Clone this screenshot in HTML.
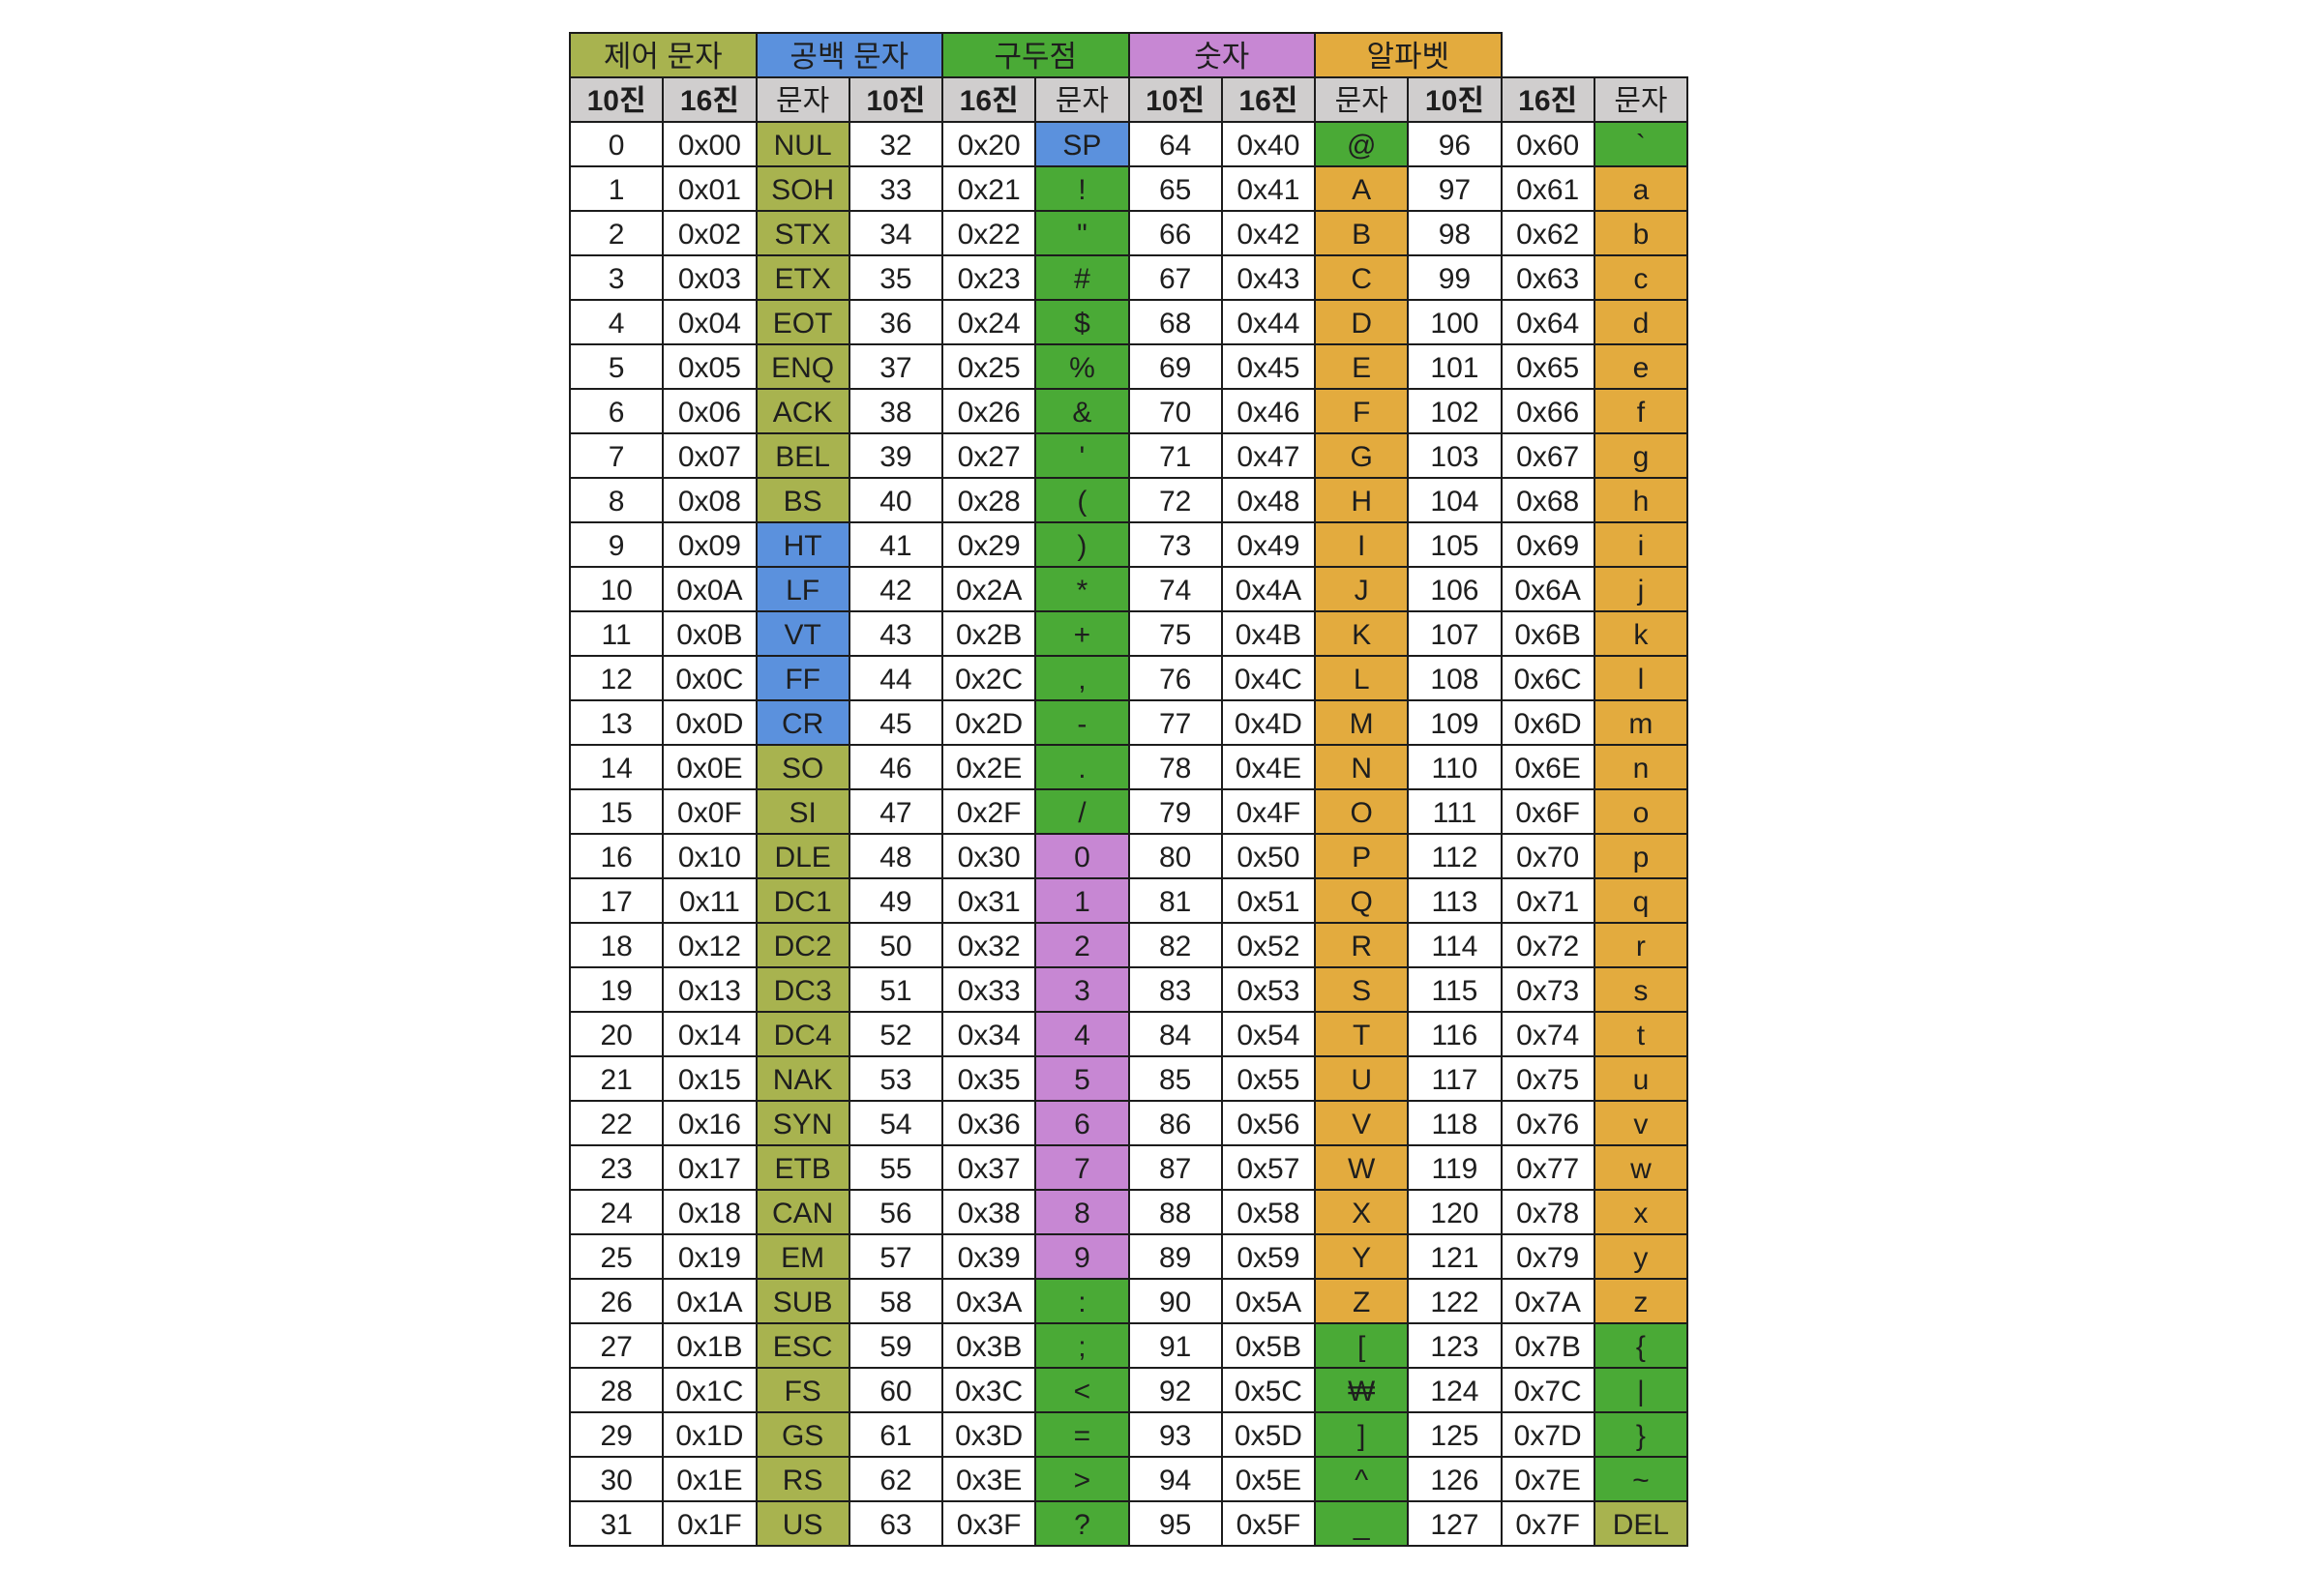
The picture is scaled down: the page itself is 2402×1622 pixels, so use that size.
<!DOCTYPE html>
<html><head><meta charset="utf-8">
<style>
html,body{margin:0;padding:0;background:#fff;width:2402px;height:1622px;overflow:hidden}
table{position:absolute;left:588px;top:33px;width:1155px;border-collapse:collapse;table-layout:fixed;
font-family:"Liberation Sans","Noto Sans CJK KR",sans-serif;font-size:30px;color:#1e1e1e}
tr{height:46px}
td{border:2px solid #1c1c1c;height:44px;box-sizing:border-box;padding:3px 0 0 0;text-align:center;vertical-align:middle;line-height:36px;overflow:hidden;white-space:nowrap}
td.blank{border-style:none}
.grp{font-size:31px}
.hd{background:#d0cece;font-weight:bold}
.hd.ch{font-weight:normal}
.ol{background:#a8b34f}.bl{background:#5b91dd}.gr{background:#4aaa36}.pu{background:#c787d3}.or{background:#e3ab3e}
</style></head><body>
<table id="t">
<colgroup><col span="12" style="width:96.25px"></colgroup>
</table>
<script>
const groups=[["제어 문자","ol"],["공백 문자","bl"],["구두점","gr"],["숫자","pu"],["알파벳","or"]];
const heads=["10진","16진","문자"];
const ctrl=["NUL","SOH","STX","ETX","EOT","ENQ","ACK","BEL","BS","HT","LF","VT","FF","CR","SO","SI","DLE","DC1","DC2","DC3","DC4","NAK","SYN","ETB","CAN","EM","SUB","ESC","FS","GS","RS","US"];
const ctrlCls=["ol","ol","ol","ol","ol","ol","ol","ol","ol","bl","bl","bl","bl","bl","ol","ol","ol","ol","ol","ol","ol","ol","ol","ol","ol","ol","ol","ol","ol","ol","ol","ol"];
function charOf(n){
  if(n<32) return ctrl[n];
  if(n===32) return "SP";
  if(n===92) return "₩";
  if(n===127) return "DEL";
  return String.fromCharCode(n);
}
function clsOf(n){
  if(n<32) return ctrlCls[n];
  if(n===32) return "bl";
  if(n>=48&&n<=57) return "pu";
  if((n>=65&&n<=90)||(n>=97&&n<=122)) return "or";
  if(n===127) return "ol";
  return "gr";
}
const t=document.getElementById('t');
let tr=document.createElement('tr');


groups.forEach(g=>{
  const td=document.createElement('td');
  td.colSpan=2;td.className='grp '+g[1];td.textContent=g[0];
  
  
  tr.appendChild(td);
});
const bl=document.createElement('td');bl.colSpan=2;bl.className='blank';


tr.appendChild(bl);
t.appendChild(tr);
tr=document.createElement('tr');


for(let i=0;i<12;i++){
  const td=document.createElement('td');
  const h=heads[i%3];
  td.className='hd'+(h==="문자"?' ch':'');td.textContent=h;
  
  
  tr.appendChild(td);
}
t.appendChild(tr);
for(let r=0;r<32;r++){
  tr=document.createElement('tr');
  
  
  for(let b=0;b<4;b++){
    const n=r+b*32;
    const vals=[String(n),"0x"+n.toString(16).toUpperCase().padStart(2,"0"),charOf(n)];
    vals.forEach((v,k)=>{
      const td=document.createElement('td');
      td.textContent=v;
      if(k===2) td.className=clsOf(n);
      
      
      tr.appendChild(td);
    });
  }
  t.appendChild(tr);
}
</script>
</body></html>
